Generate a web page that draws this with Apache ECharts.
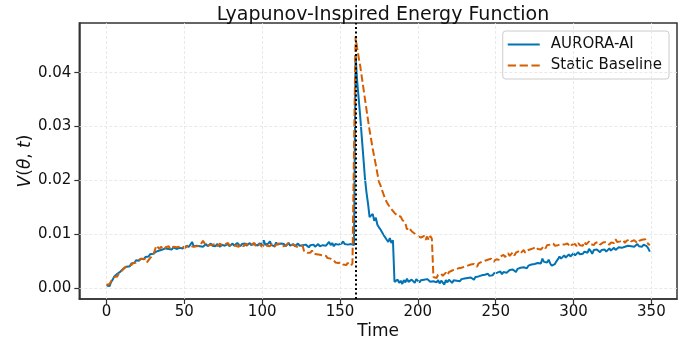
<!DOCTYPE html>
<html>
<head>
<meta charset="utf-8">
<script src="https://cdn.jsdelivr.net/npm/echarts@6/dist/echarts.min.js"></script>
<style>
  html, body { margin: 0; padding: 0; background: #fff; }
  #chart { width: 696px; height: 345px; }
</style>
</head>
<body>
<div id="chart"></div>
<script>
// V(theta, t) per time step, t = 0..349
const auroraAI = [
  0.0005, 0.0006, 0.0004, 0.0012, 0.0016, 0.0022, 0.0020, 0.0027, 0.0025, 0.0031,
  0.0034, 0.0037, 0.0035, 0.0040, 0.0043, 0.0041, 0.0046, 0.0049, 0.0047, 0.0052,
  0.0054, 0.0051, 0.0055, 0.0056, 0.0054, 0.0058, 0.0061, 0.0059, 0.0063, 0.0065,
  0.0064, 0.0066, 0.0068, 0.0067, 0.0070, 0.0069, 0.0072, 0.0071, 0.0074, 0.0072,
  0.0073, 0.0075, 0.0072, 0.0076, 0.0074, 0.0073, 0.0076, 0.0075, 0.0077, 0.0074,
  0.0076, 0.0078, 0.0075, 0.0077, 0.0079, 0.0086, 0.0078, 0.0076, 0.0079, 0.0077,
  0.0078, 0.0080, 0.0077, 0.0079, 0.0082, 0.0078, 0.0080, 0.0083, 0.0079, 0.0081,
  0.0078, 0.0082, 0.0080, 0.0077, 0.0081, 0.0084, 0.0079, 0.0080, 0.0082, 0.0078,
  0.0081, 0.0083, 0.0079, 0.0080, 0.0084, 0.0081, 0.0078, 0.0082, 0.0080, 0.0083,
  0.0079, 0.0081, 0.0084, 0.0080, 0.0078, 0.0082, 0.0081, 0.0079, 0.0083, 0.0080,
  0.0082, 0.0089, 0.0081, 0.0079, 0.0083, 0.0087, 0.0080, 0.0082, 0.0078, 0.0085,
  0.0081, 0.0079, 0.0083, 0.0080, 0.0082, 0.0078, 0.0081, 0.0084, 0.0079, 0.0080,
  0.0082, 0.0078, 0.0080, 0.0083, 0.0079, 0.0077, 0.0080, 0.0078, 0.0081, 0.0079,
  0.0076, 0.0080, 0.0078, 0.0081, 0.0077, 0.0079, 0.0082, 0.0078, 0.0076, 0.0080,
  0.0083, 0.0079, 0.0081, 0.0086, 0.0080, 0.0084, 0.0078, 0.0082, 0.0079, 0.0081,
  0.0080, 0.0083, 0.0087, 0.0082, 0.0085, 0.0081, 0.0079, 0.0082, 0.0084, 0.0080,
  0.0432, 0.0385, 0.0352, 0.0318, 0.0280, 0.0243, 0.0205, 0.0178, 0.0157, 0.0132,
  0.0129, 0.0138, 0.0125, 0.0131, 0.0118, 0.0113, 0.0109, 0.0104, 0.0099, 0.0097,
  0.0090, 0.0086, 0.0093, 0.0084, 0.0089, 0.0012, 0.0009, 0.0016, 0.0010, 0.0014,
  0.0008, 0.0015, 0.0011, 0.0018, 0.0012, 0.0009, 0.0016, 0.0013, 0.0010, 0.0017,
  0.0014, 0.0011, 0.0015, 0.0012, 0.0016, 0.0013, 0.0017, 0.0014, 0.0012, 0.0015,
  0.0013, 0.0016, 0.0011, 0.0015, 0.0009, 0.0014, 0.0012, 0.0007, 0.0015, 0.0011,
  0.0016, 0.0013, 0.0010, 0.0015, 0.0017, 0.0014, 0.0016, 0.0013, 0.0017, 0.0015,
  0.0018, 0.0016, 0.0019, 0.0017, 0.0020, 0.0018, 0.0016, 0.0021, 0.0019, 0.0022,
  0.0020, 0.0024, 0.0021, 0.0025, 0.0022, 0.0027, 0.0023, 0.0026, 0.0024, 0.0028,
  0.0025, 0.0029, 0.0027, 0.0031, 0.0026, 0.0030, 0.0033, 0.0029, 0.0032, 0.0034,
  0.0031, 0.0035, 0.0033, 0.0030, 0.0036, 0.0034, 0.0038, 0.0035, 0.0039, 0.0041,
  0.0037, 0.0042, 0.0040, 0.0044, 0.0041, 0.0045, 0.0043, 0.0047, 0.0050, 0.0046,
  0.0055, 0.0049, 0.0052, 0.0048, 0.0053, 0.0046, 0.0042, 0.0039, 0.0045, 0.0050,
  0.0054, 0.0059, 0.0055, 0.0058, 0.0061, 0.0057, 0.0060, 0.0063, 0.0059, 0.0062,
  0.0065, 0.0061, 0.0064, 0.0067, 0.0063, 0.0066, 0.0064, 0.0068, 0.0070, 0.0066,
  0.0073, 0.0069, 0.0064, 0.0071, 0.0068, 0.0072, 0.0070, 0.0067, 0.0071, 0.0069,
  0.0072, 0.0068, 0.0071, 0.0074, 0.0070, 0.0073, 0.0075, 0.0071, 0.0074, 0.0076,
  0.0073, 0.0075, 0.0072, 0.0077, 0.0074, 0.0079, 0.0076, 0.0078, 0.0081, 0.0077,
  0.0079, 0.0082, 0.0078, 0.0080, 0.0077, 0.0081, 0.0079, 0.0078, 0.0074, 0.0068
]
const staticBaseline = [
  0.0006, 0.0004, 0.0008, 0.0013, 0.0015, 0.0021, 0.0024, 0.0022, 0.0028, 0.0030,
  0.0033, 0.0036, 0.0039, 0.0037, 0.0042, 0.0044, 0.0043, 0.0047, 0.0049, 0.0048,
  0.0051, 0.0053, 0.0050, 0.0055, 0.0057, 0.0054, 0.0048, 0.0045, 0.0056, 0.0059,
  0.0061, 0.0063, 0.0079, 0.0076, 0.0073, 0.0077, 0.0075, 0.0072, 0.0076, 0.0074,
  0.0078, 0.0073, 0.0075, 0.0077, 0.0074, 0.0076, 0.0073, 0.0077, 0.0075, 0.0078,
  0.0074, 0.0077, 0.0079, 0.0076, 0.0078, 0.0075, 0.0077, 0.0080, 0.0078, 0.0076,
  0.0079, 0.0082, 0.0088, 0.0085, 0.0079, 0.0077, 0.0080, 0.0078, 0.0081, 0.0079,
  0.0082, 0.0078, 0.0080, 0.0083, 0.0079, 0.0077, 0.0081, 0.0079, 0.0084, 0.0080,
  0.0078, 0.0081, 0.0083, 0.0079, 0.0080, 0.0077, 0.0082, 0.0080, 0.0078, 0.0081,
  0.0083, 0.0079, 0.0077, 0.0081, 0.0080, 0.0084, 0.0078, 0.0080, 0.0082, 0.0079,
  0.0077, 0.0080, 0.0083, 0.0079, 0.0081, 0.0078, 0.0082, 0.0080, 0.0077, 0.0081,
  0.0079, 0.0083, 0.0080, 0.0078, 0.0081, 0.0079, 0.0082, 0.0084, 0.0080, 0.0078,
  0.0081, 0.0079, 0.0077, 0.0080, 0.0078, 0.0076, 0.0079, 0.0068, 0.0071, 0.0066,
  0.0069, 0.0066, 0.0070, 0.0064, 0.0061, 0.0063, 0.0060, 0.0062, 0.0059, 0.0061,
  0.0058, 0.0060, 0.0056, 0.0059, 0.0055, 0.0057, 0.0052, 0.0048, 0.0050, 0.0047,
  0.0045, 0.0048, 0.0044, 0.0046, 0.0043, 0.0047, 0.0044, 0.0042, 0.0046, 0.0043,
  0.0467, 0.0446, 0.0428, 0.0412, 0.0392, 0.0372, 0.0352, 0.0332, 0.0312, 0.0293,
  0.0276, 0.0259, 0.0244, 0.0229, 0.0213, 0.0198, 0.0191, 0.0182, 0.0174, 0.0166,
  0.0160, 0.0155, 0.0151, 0.0147, 0.0144, 0.0140, 0.0138, 0.0134, 0.0131, 0.0133,
  0.0127, 0.0124, 0.0121, 0.0109, 0.0113, 0.0110, 0.0106, 0.0104, 0.0101, 0.0099,
  0.0097, 0.0100, 0.0094, 0.0091, 0.0097, 0.0090, 0.0096, 0.0089, 0.0097, 0.0092,
  0.0021, 0.0024, 0.0019, 0.0025, 0.0022, 0.0027, 0.0023, 0.0026, 0.0029, 0.0025,
  0.0030, 0.0028, 0.0033, 0.0031, 0.0035, 0.0032, 0.0037, 0.0034, 0.0038, 0.0036,
  0.0040, 0.0037, 0.0042, 0.0039, 0.0044, 0.0041, 0.0045, 0.0043, 0.0040, 0.0046,
  0.0044, 0.0049, 0.0046, 0.0051, 0.0048, 0.0053, 0.0050, 0.0055, 0.0052, 0.0049,
  0.0054, 0.0057, 0.0053, 0.0059, 0.0056, 0.0062, 0.0058, 0.0061, 0.0065, 0.0060,
  0.0063, 0.0067, 0.0061, 0.0066, 0.0064, 0.0069, 0.0065, 0.0068, 0.0071, 0.0066,
  0.0070, 0.0067, 0.0072, 0.0069, 0.0074, 0.0071, 0.0077, 0.0073, 0.0076, 0.0072,
  0.0075, 0.0078, 0.0074, 0.0080, 0.0077, 0.0081, 0.0078, 0.0083, 0.0079, 0.0076,
  0.0080, 0.0077, 0.0082, 0.0079, 0.0081, 0.0078, 0.0083, 0.0080, 0.0077, 0.0081,
  0.0079, 0.0082, 0.0078, 0.0084, 0.0080, 0.0083, 0.0079, 0.0086, 0.0081, 0.0084,
  0.0087, 0.0082, 0.0085, 0.0080, 0.0084, 0.0082, 0.0086, 0.0081, 0.0083, 0.0085,
  0.0082, 0.0086, 0.0083, 0.0081, 0.0085, 0.0088, 0.0084, 0.0091, 0.0086, 0.0083,
  0.0087, 0.0085, 0.0089, 0.0084, 0.0088, 0.0086, 0.0091, 0.0087, 0.0085, 0.0089,
  0.0086, 0.0084, 0.0088, 0.0085, 0.0090, 0.0087, 0.0091, 0.0085, 0.0083, 0.0080
]
const xTicks = [0, 50, 100, 150, 200, 250, 300, 350]
const yTicks = [0, 0.01, 0.02, 0.03, 0.04]
const shockTime = 160

const font = 'DejaVu Sans'
const toPairs = arr => arr.map((v, i) => [i, v])

const gridLine = {
  color: '#e3e3e3',
  width: 0.8,
  type: [3, 2],
}

// legend glyphs: a solid stroke and a dashed stroke
const solidIcon = 'path://M0,0H32V2H0Z'
const dashIcon = 'path://M0,0H7.5V2H0Z M10.7,0H18.2V2H10.7Z M21.4,0H28.9V2H21.4Z'

const myChart = echarts.init(document.getElementById('chart'), null, { renderer: 'canvas' })

const option = {
  animation: false,
  backgroundColor: '#fff',
  textStyle: { fontFamily: font },
  title: {
    text: 'Lyapunov-Inspired Energy Function',
    left: 378,
    textAlign: 'center',
    top: 1,
    textStyle: { fontFamily: font, fontSize: 19, fontWeight: 'normal', color: '#111' },
  },
  legend: {
    orient: 'vertical',
    right: 27,
    top: 31,
    padding: [6, 7, 6, 5],
    itemGap: 6,
    itemWidth: 32,
    itemHeight: 14,
    symbolKeepAspect: true,
    backgroundColor: 'rgba(255,255,255,0.85)',
    borderColor: '#cccccc',
    borderWidth: 1,
    borderRadius: 3,
    textStyle: { fontFamily: font, fontSize: 15, color: '#111', padding: [0, 0, 0, 6] },
    data: [
      { name: 'AURORA-AI', icon: solidIcon },
      { name: 'Static Baseline', icon: dashIcon },
    ],
  },
  grid: {
    left: 79.3,
    right: 19,
    top: 23,
    bottom: 46,
    show: true,
    backgroundColor: '#fff',
    borderColor: '#333',
    borderWidth: 1.5,
  },
  xAxis: {
    type: 'value',
    min: -17.45,
    max: 366.45,
    name: 'Time',
    nameLocation: 'middle',
    nameGap: 24,
    nameMoveOverlap: false,
    nameTextStyle: { fontFamily: font, fontSize: 17, color: '#111' },
    axisLine: { show: true, onZero: false, lineStyle: { color: '#333', width: 1.5 } },
    axisTick: { show: true, length: 5, customValues: xTicks, lineStyle: { color: '#333', width: 1.2 } },
    axisLabel: { customValues: xTicks, fontSize: 15, color: '#111', margin: 6 },
    splitLine: { show: false },
  },
  yAxis: {
    type: 'value',
    min: -0.00199,
    max: 0.04922,
    name: '{i|V}({i|θ}, {i|t})',
    nameLocation: 'middle',
    nameGap: 45,
    nameMoveOverlap: false,
    nameTextStyle: {
      fontFamily: font, fontSize: 17, color: '#111',
      rich: { i: { fontFamily: font, fontSize: 17, fontStyle: 'italic', color: '#111' } },
    },
    axisLine: { show: true, onZero: false, lineStyle: { color: '#333', width: 1.5 } },
    axisTick: { show: true, length: 5, customValues: yTicks, lineStyle: { color: '#333', width: 1.2 } },
    axisLabel: {
      customValues: yTicks, fontSize: 15, color: '#111', margin: 8,
      formatter: v => v.toFixed(2),
    },
    splitLine: { show: false },
  },
  series: [
    {
      // grid lines
      type: 'line',
      data: [],
      silent: true,
      z: 1,
      markLine: {
        silent: true,
        symbol: 'none',
        label: { show: false },
        lineStyle: gridLine,
        animation: false,
        data: [
          ...xTicks.map(x => ({ xAxis: x })),
          ...yTicks.map(y => ({ yAxis: y })),
        ],
      },
    },
    {
      name: 'AURORA-AI',
      type: 'line',
      data: toPairs(auroraAI),
      showSymbol: false,
      symbol: 'none',
      z: 3,
      lineStyle: { color: '#0173b2', width: 2 },
      itemStyle: { color: '#0173b2' },
    },
    {
      name: 'Static Baseline',
      type: 'line',
      data: toPairs(staticBaseline),
      showSymbol: false,
      symbol: 'none',
      z: 4,
      lineStyle: { color: '#d55e00', width: 2, type: [7.5, 3.2] },
      itemStyle: { color: '#d55e00' },
    },
    {
      // shock marker
      type: 'line',
      data: [],
      silent: true,
      z: 5,
      markLine: {
        silent: true,
        symbol: 'none',
        label: { show: false },
        lineStyle: { color: '#000', width: 2, type: [2, 2.5] },
        data: [{ xAxis: shockTime }],
      },
    },
  ],
}

myChart.setOption(option)
</script>
</body>
</html>
